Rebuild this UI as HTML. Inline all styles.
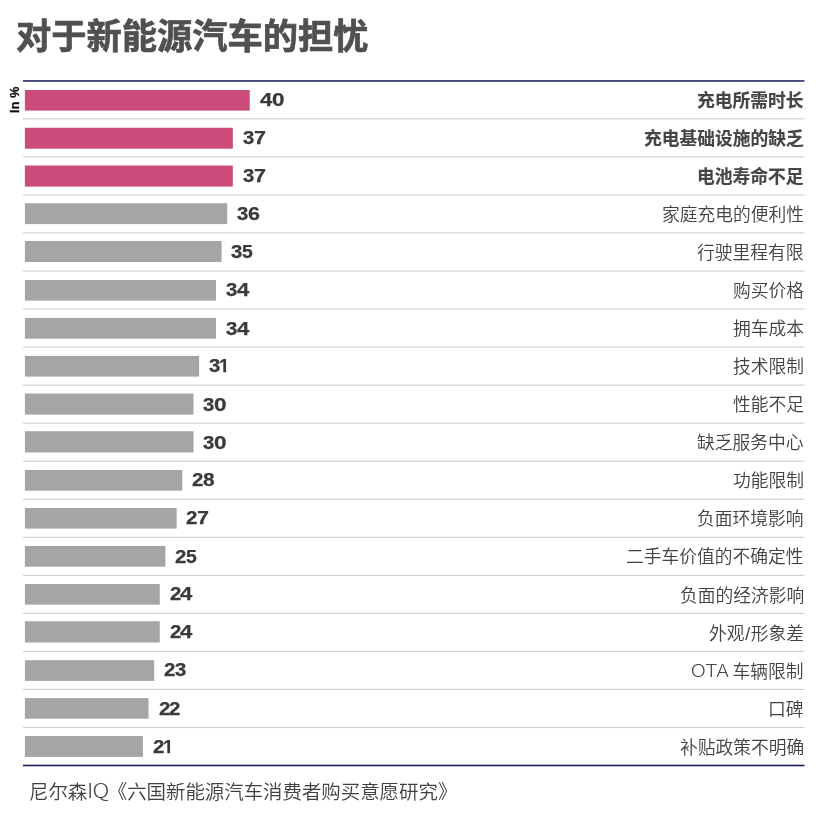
<!DOCTYPE html><html lang="zh-CN"><head><meta charset="utf-8"><title>对于新能源汽车的担忧</title><style>
html,body{margin:0;padding:0;background:#fff;}
body{width:832px;height:817px;position:relative;overflow:hidden;font-family:"Liberation Sans","Noto Sans CJK SC",sans-serif;}
svg.shapes{position:absolute;left:0;top:0;}
h1{position:absolute;left:16.3px;top:11.1px;margin:0;font-size:35.25px;line-height:52px;font-weight:700;-webkit-text-stroke:0.7px #505050;color:#505050;white-space:nowrap;transform:rotate(0.001deg);}
.unit{position:absolute;left:8.5px;top:113.4px;font-size:12.6px;line-height:12px;font-weight:700;color:#111;-webkit-text-stroke:0.3px #111;letter-spacing:0.15px;transform-origin:0 0;transform:rotate(-90deg);white-space:nowrap;}
.v{position:absolute;height:21px;white-space:nowrap;font-size:17.5px;line-height:21px;font-weight:700;}
.d{display:inline-block;vertical-align:top;height:21px;text-align:left;font-size:17.5px;line-height:21px;font-weight:700;color:#3a3a3a;-webkit-text-stroke:0.25px #3a3a3a;transform-origin:0 0;white-space:nowrap;}
.one{clip-path:polygon(0 0,6.64px 0,6.64px 21px,3.96px 21px,3.96px 13.76px,0 13.76px);}
.l{position:absolute;right:28.2px;font-size:17.75px;line-height:24px;white-space:nowrap;text-align:right;transform:rotate(0.001deg);}
.lb{font-weight:700;color:#464646;-webkit-text-stroke:0.15px #464646;margin-top:0.2px;}
.ln{font-weight:350;color:#424242;}
.lat{font-family:"Noto Sans CJK SC","Liberation Sans",sans-serif;font-weight:300;font-size:17.9px;line-height:20px;display:inline-block;position:relative;top:-1.4px;transform:scaleX(1.16);transform-origin:100% 50%;margin-right:-1.1px;}
.foot{position:absolute;left:29.3px;top:778.3px;font-size:19.43px;line-height:28px;font-weight:350;color:#404040;white-space:nowrap;transform:rotate(0.001deg);}
.iq{font-family:"Noto Sans CJK SC","Liberation Sans",sans-serif;font-weight:300;font-size:19.8px;line-height:20px;display:inline-block;position:relative;top:-0.9px;letter-spacing:-0.6px;transform:scaleX(1.17);transform-origin:0 50%;margin-left:-0.6px;margin-right:2.5px;}
</style></head><body>
<svg class="shapes" width="832" height="817" viewBox="0 0 832 817">
<rect x="23" y="80.1" width="781.5" height="1.7" fill="#34376f"/>
<rect x="24.9" y="90" width="224.80" height="20.60" fill="#cb4c7b"/>
<rect x="23" y="118.30" width="781.5" height="1.1" fill="#cecece"/>
<rect x="24.9" y="127.75" width="207.94" height="20.95" fill="#cb4c7b"/>
<rect x="23" y="156.34" width="781.5" height="1.1" fill="#cecece"/>
<rect x="24.9" y="165.5" width="207.94" height="21.10" fill="#cb4c7b"/>
<rect x="23" y="194.38" width="781.5" height="1.1" fill="#cecece"/>
<rect x="24.9" y="203.25" width="202.32" height="20.85" fill="#a5a5a5"/>
<rect x="23" y="232.42" width="781.5" height="1.1" fill="#cecece"/>
<rect x="24.9" y="241" width="196.70" height="21.00" fill="#a5a5a5"/>
<rect x="23" y="270.46" width="781.5" height="1.1" fill="#cecece"/>
<rect x="24.9" y="280" width="191.08" height="20.60" fill="#a5a5a5"/>
<rect x="23" y="308.50" width="781.5" height="1.1" fill="#cecece"/>
<rect x="24.9" y="317.9" width="191.08" height="20.80" fill="#a5a5a5"/>
<rect x="23" y="346.54" width="781.5" height="1.1" fill="#cecece"/>
<rect x="24.9" y="355.9" width="174.22" height="20.70" fill="#a5a5a5"/>
<rect x="23" y="384.58" width="781.5" height="1.1" fill="#cecece"/>
<rect x="24.9" y="393.5" width="168.60" height="21.10" fill="#a5a5a5"/>
<rect x="23" y="422.62" width="781.5" height="1.1" fill="#cecece"/>
<rect x="24.9" y="431.25" width="168.60" height="21.25" fill="#a5a5a5"/>
<rect x="23" y="460.66" width="781.5" height="1.1" fill="#cecece"/>
<rect x="24.9" y="470" width="157.36" height="20.70" fill="#a5a5a5"/>
<rect x="23" y="498.70" width="781.5" height="1.1" fill="#cecece"/>
<rect x="24.9" y="508" width="151.74" height="20.60" fill="#a5a5a5"/>
<rect x="23" y="536.74" width="781.5" height="1.1" fill="#cecece"/>
<rect x="24.9" y="546" width="140.50" height="20.70" fill="#a5a5a5"/>
<rect x="23" y="574.78" width="781.5" height="1.1" fill="#cecece"/>
<rect x="24.9" y="584" width="134.88" height="20.60" fill="#a5a5a5"/>
<rect x="23" y="612.82" width="781.5" height="1.1" fill="#cecece"/>
<rect x="24.9" y="621.25" width="134.88" height="21.25" fill="#a5a5a5"/>
<rect x="23" y="650.86" width="781.5" height="1.1" fill="#cecece"/>
<rect x="24.9" y="660.2" width="129.26" height="20.70" fill="#a5a5a5"/>
<rect x="23" y="688.90" width="781.5" height="1.1" fill="#cecece"/>
<rect x="24.9" y="698.1" width="123.64" height="20.65" fill="#a5a5a5"/>
<rect x="23" y="726.94" width="781.5" height="1.1" fill="#cecece"/>
<rect x="24.9" y="736" width="118.02" height="20.90" fill="#a5a5a5"/>
<rect x="23" y="764.7" width="781.5" height="1.6" fill="#1c1d62"/>
</svg>
<h1>对于新能源汽车的担忧</h1>
<div class="unit">In %</div>
<div class="v" style="left:259.77px;top:89.80px"><span class="d" style="width:12.64px;transform:rotate(0.001deg) scaleX(1.259)">4</span><span class="d" style="width:12.00px;transform:rotate(0.001deg) scaleX(1.286)">0</span></div>
<div class="l lb" style="top:88.80px">充电所需时长</div>
<div class="v" style="left:242.73px;top:128.31px"><span class="d" style="width:10.84px;transform:rotate(0.001deg) scaleX(1.161)">3</span><span class="d" style="width:12.00px;transform:rotate(0.001deg) scaleX(1.230)">7</span></div>
<div class="l lb" style="top:126.86px">充电基础设施的缺乏</div>
<div class="v" style="left:242.73px;top:166.31px"><span class="d" style="width:10.84px;transform:rotate(0.001deg) scaleX(1.161)">3</span><span class="d" style="width:12.00px;transform:rotate(0.001deg) scaleX(1.230)">7</span></div>
<div class="l lb" style="top:164.91px">电池寿命不足</div>
<div class="v" style="left:237.03px;top:204.06px"><span class="d" style="width:10.88px;transform:rotate(0.001deg) scaleX(1.161)">3</span><span class="d" style="width:12.00px;transform:rotate(0.001deg) scaleX(1.229)">6</span></div>
<div class="l ln" style="top:202.97px">家庭充电的便利性</div>
<div class="v" style="left:231.43px;top:242.07px"><span class="d" style="width:10.87px;transform:rotate(0.001deg) scaleX(1.161)">3</span><span class="d" style="width:12.00px;transform:rotate(0.001deg) scaleX(1.103)">5</span></div>
<div class="l ln" style="top:241.02px">行驶里程有限</div>
<div class="v" style="left:225.78px;top:280.22px"><span class="d" style="width:10.83px;transform:rotate(0.001deg) scaleX(1.161)">3</span><span class="d" style="width:12.00px;transform:rotate(0.001deg) scaleX(1.259)">4</span></div>
<div class="l ln" style="top:279.07px">购买价格</div>
<div class="v" style="left:225.78px;top:318.78px"><span class="d" style="width:10.83px;transform:rotate(0.001deg) scaleX(1.161)">3</span><span class="d" style="width:12.00px;transform:rotate(0.001deg) scaleX(1.259)">4</span></div>
<div class="l ln" style="top:317.13px">拥车成本</div>
<div class="v" style="left:208.93px;top:356.29px"><span class="d" style="width:9.92px;transform:rotate(0.001deg) scaleX(1.161)">3</span><span class="d one" style="width:12.00px;transform:rotate(0.001deg) scaleX(1.087)">1</span></div>
<div class="l ln" style="top:355.19px">技术限制</div>
<div class="v" style="left:203.33px;top:394.99px"><span class="d" style="width:10.98px;transform:rotate(0.001deg) scaleX(1.161)">3</span><span class="d" style="width:12.00px;transform:rotate(0.001deg) scaleX(1.286)">0</span></div>
<div class="l ln" style="top:393.24px">性能不足</div>
<div class="v" style="left:203.33px;top:433.10px"><span class="d" style="width:10.98px;transform:rotate(0.001deg) scaleX(1.161)">3</span><span class="d" style="width:12.00px;transform:rotate(0.001deg) scaleX(1.286)">0</span></div>
<div class="l ln" style="top:431.30px">缺乏服务中心</div>
<div class="v" style="left:192.04px;top:469.95px"><span class="d" style="width:11.15px;transform:rotate(0.001deg) scaleX(1.169)">2</span><span class="d" style="width:12.00px;transform:rotate(0.001deg) scaleX(1.192)">8</span></div>
<div class="l ln" style="top:469.35px">功能限制</div>
<div class="v" style="left:186.49px;top:508.11px"><span class="d" style="width:10.68px;transform:rotate(0.001deg) scaleX(1.169)">2</span><span class="d" style="width:12.00px;transform:rotate(0.001deg) scaleX(1.230)">7</span></div>
<div class="l ln" style="top:507.41px">负面环境影响</div>
<div class="v" style="left:175.19px;top:546.76px"><span class="d" style="width:11.12px;transform:rotate(0.001deg) scaleX(1.169)">2</span><span class="d" style="width:12.00px;transform:rotate(0.001deg) scaleX(1.103)">5</span></div>
<div class="l ln" style="top:545.46px">二手车价值的不确定性</div>
<div class="v" style="left:169.59px;top:584.11px"><span class="d" style="width:10.68px;transform:rotate(0.001deg) scaleX(1.169)">2</span><span class="d" style="width:12.00px;transform:rotate(0.001deg) scaleX(1.259)">4</span></div>
<div class="l ln" style="top:583.51px">负面的经济影响</div>
<div class="v" style="left:169.59px;top:622.47px"><span class="d" style="width:10.68px;transform:rotate(0.001deg) scaleX(1.169)">2</span><span class="d" style="width:12.00px;transform:rotate(0.001deg) scaleX(1.259)">4</span></div>
<div class="l ln" style="top:621.57px">外观<span style="margin:0 .65px">/</span>形象差</div>
<div class="v" style="left:164.29px;top:660.23px"><span class="d" style="width:10.24px;transform:rotate(0.001deg) scaleX(1.169)">2</span><span class="d" style="width:12.00px;transform:rotate(0.001deg) scaleX(1.161)">3</span></div>
<div class="l ln" style="top:659.62px"><span class="lat">OTA</span> 车辆限制</div>
<div class="v" style="left:158.69px;top:698.68px"><span class="d" style="width:10.15px;transform:rotate(0.001deg) scaleX(1.169)">2</span><span class="d" style="width:12.00px;transform:rotate(0.001deg) scaleX(1.169)">2</span></div>
<div class="l ln" style="top:697.68px">口碑</div>
<div class="v" style="left:152.69px;top:736.93px"><span class="d" style="width:10.16px;transform:rotate(0.001deg) scaleX(1.169)">2</span><span class="d one" style="width:12.00px;transform:rotate(0.001deg) scaleX(1.087)">1</span></div>
<div class="l ln" style="top:735.73px">补贴政策不明确</div>
<div class="foot">尼尔森<span class="iq">IQ</span>《六国新能源汽车消费者购买意愿研究》</div>
</body></html>
